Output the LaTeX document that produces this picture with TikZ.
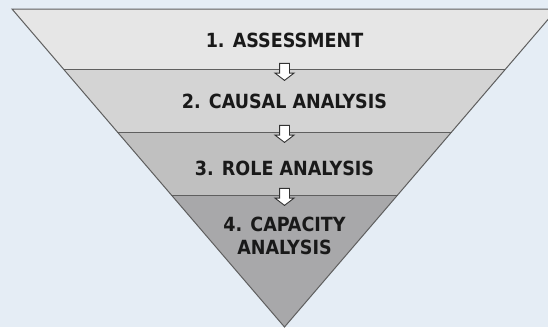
\documentclass[tikz,border=0pt]{standalone}
\usepackage{fontspec}
\newfontfamily\stagefont{DejaVu Sans Condensed}
\usetikzlibrary{calc, shapes.arrows}

\definecolor{bgblue}{RGB}{229,237,245}
\definecolor{edgegray}{RGB}{95,95,95}
\definecolor{bandA}{RGB}{230,230,230}
\definecolor{bandB}{RGB}{212,212,212}
\definecolor{bandC}{RGB}{192,192,192}
\definecolor{bandD}{RGB}{168,168,170}

\begin{document}
\begin{tikzpicture}[
	x=1pt, y=-1pt,
	stage/.style={font=\stagefont\bfseries\fontsize{19.5}{22.5}\selectfont, text=black!90, align=center},
	edge/.style={draw=edgegray, line width=1pt},
	downarrow/.style={single arrow, draw=black!80, fill=white, line width=0.9pt,
		shape border rotate=270, minimum height=17pt, minimum width=0pt,
		single arrow head extend=4.5pt, single arrow tip angle=105, inner sep=4.5pt},
	]
	\fill[bgblue] (0,0) rectangle (548,327);
	\useasboundingbox (0,0) rectangle (548,327);
	\coordinate (tl) at (12,9);
	\coordinate (tr) at (557,9);
	\coordinate (bot) at (284.5,327);
	\foreach \f/\n in {0.1918/1, 0.3868/2, 0.5849/3} {
		\coordinate (l\n) at ($(tl)!\f!(bot)$);
		\coordinate (r\n) at ($(tr)!\f!(bot)$);
	}
	% bands
	\fill[bandA] (tl) -- (tr) -- (r1) -- (l1) -- cycle;
	\fill[bandB] (l1) -- (r1) -- (r2) -- (l2) -- cycle;
	\fill[bandC] (l2) -- (r2) -- (r3) -- (l3) -- cycle;
	\fill[bandD] (l3) -- (r3) -- (bot) -- cycle;
	\draw[edge] (l1) -- (r1) (l2) -- (r2) (l3) -- (r3);
	\draw[edge, line join=miter] (tl) -- (tr) -- (bot) -- cycle;
	% texts
	\node[stage] (assess) at (284.5,40.5) {1. ASSESSMENT};
	\node[stage] (causal) at (284.5,101.5) {2. CAUSAL ANALYSIS};
	\node[stage] (role) at (284.5,168) {3. ROLE ANALYSIS};
	\node[stage] (capacity) at (284.5,236) {4. CAPACITY\\ANALYSIS};
	% arrows
	\node[downarrow] (a12) at ($(l1)!0.5!(r1)$) {};
	\node[downarrow] (a23) at ($(l2)!0.5!(r2)$) {};
	\node[downarrow] (a34) at ($(l3)!0.5!(r3)$) {};
\end{tikzpicture}
\end{document}
